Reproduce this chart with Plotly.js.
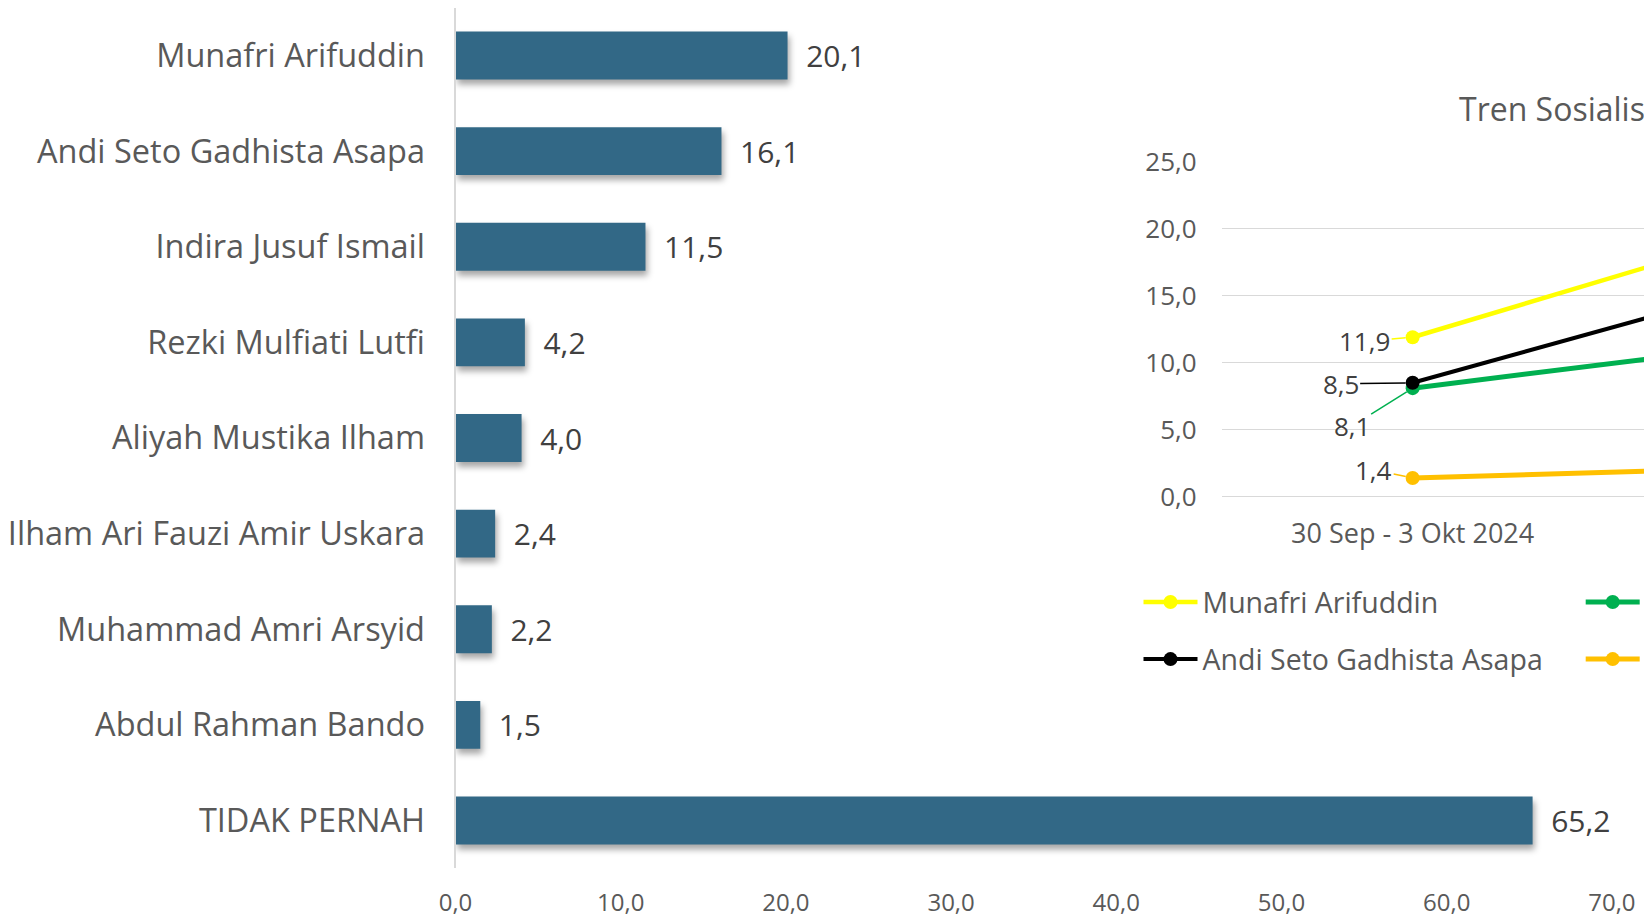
<!DOCTYPE html>
<html>
<head>
<meta charset="utf-8">
<script src="https://cdn.plot.ly/plotly-3.0.1.min.js"></script>
<style>
  html, body { margin: 0; padding: 0; background: #ffffff; overflow: hidden; }
  #chart { width: 1644px; height: 917px; }
  .barlayer .trace .points path { filter: drop-shadow(2px 5px 3px rgba(0,0,0,0.35)); }
</style>
</head>
<body>
<div id="chart"></div>
<script>
// ---- Bar chart data ----
const categories = [
  'Munafri Arifuddin',
  'Andi Seto Gadhista Asapa',
  'Indira Jusuf Ismail',
  'Rezki Mulfiati Lutfi',
  'Aliyah Mustika Ilham',
  'Ilham Ari Fauzi Amir Uskara',
  'Muhammad Amri Arsyid',
  'Abdul Rahman Bando',
  'TIDAK PERNAH'
];
const values = [20.1, 16.1, 11.5, 4.2, 4.0, 2.4, 2.2, 1.5, 65.2];
const barTicks = [0, 10, 20, 30, 40, 50, 60, 70];

// ---- Inset trend chart data ----
const trendPeriods = ['30 Sep - 3 Okt 2024', 'Okt 2024 (II)'];
const trendTicks = [0, 5, 10, 15, 20, 25];
const trendNames = ['Munafri Arifuddin', 'Indira Jusuf Ismail', 'Andi Seto Gadhista Asapa', 'Muhammad Amri Arsyid'];
const trendMunafri = [11.9, 20.1];
const trendIndira = [8.1, 11.5];
const trendAndiSeto = [8.5, 16.1];
const trendAmri = [1.4, 2.2];
const trendTitle = 'Tren Sosialisasi Calon Walikota';

const trendSeries = [trendMunafri, trendIndira, trendAndiSeto, trendAmri];
const trendColors = ['#FFFF00', '#00B050', '#000000', '#FFC000'];
const trendWidths = [4.5, 5, 4, 5];
const trendLegend = ['legend', 'legend2', 'legend', 'legend2'];
// label offsets (px) for the first-period data labels
const labelOffsets = [[-48, 4], [-61, 38], [-72, 1], [-39, -8]];

const FONT = 'Open Sans, Lato, DejaVu Sans, sans-serif';
const fmt = v => v.toFixed(1).replace('.', ',');

const traces = [];
traces.push({
  type: 'bar',
  orientation: 'h',
  x: values,
  y: categories,
  xaxis: 'x',
  yaxis: 'y',
  marker: { color: '#326886' },
  width: 0.5,
  texttemplate: '\u00a0\u00a0%{x:.1f}',
  textposition: 'outside',
  textfont: { family: FONT, size: 30, color: '#404040' },
  cliponaxis: false,
  constraintext: 'none',
  showlegend: false,
  hoverinfo: 'skip'
});

trendSeries.forEach((arr, i) => {
  traces.push({
    type: 'scatter',
    mode: 'lines+markers',
    name: trendNames[i],
    x: trendPeriods,
    y: arr,
    xaxis: 'x2',
    yaxis: 'y2',
    line: { color: trendColors[i], width: trendWidths[i] },
    marker: { color: trendColors[i], size: 14 },
    legend: trendLegend[i],
    legendgroup: trendNames[i],
    hoverinfo: 'skip'
  });
});

const annotations = [];
trendSeries.forEach((arr, i) => {
  annotations.push({
    xref: 'x2', yref: 'y2',
    x: trendPeriods[0], y: arr[0],
    text: fmt(arr[0]),
    showarrow: true,
    arrowhead: 0,
    arrowwidth: 1.5,
    arrowcolor: trendColors[i],
    standoff: 7,
    ax: labelOffsets[i][0],
    ay: labelOffsets[i][1],
    font: { family: FONT, size: 26, color: '#404040' }
  });
});
annotations.push({
  xref: 'paper', yref: 'paper',
  x: 1456.7 / 1644, xanchor: 'left',
  y: 1 - 108 / 917, yanchor: 'middle',
  text: trendTitle,
  showarrow: false,
  font: { family: FONT, size: 32, color: '#595959' }
});

const legendBase = {
  orientation: 'v',
  xanchor: 'left',
  yanchor: 'top',
  y: 1 - 577 / 917,
  font: { family: FONT, size: 28.5, color: '#595959' },
  itemwidth: 54,
  tracegroupgap: 17,
  traceorder: 'grouped',
  bgcolor: 'rgba(0,0,0,0)',
  borderwidth: 0
};

const layout = {
  width: 1644,
  height: 917,
  margin: { l: 0, r: 0, t: 0, b: 0, autoexpand: false },
  paper_bgcolor: '#ffffff',
  plot_bgcolor: 'rgba(0,0,0,0)',
  separators: ',.',
  font: { family: FONT, color: '#595959' },
  showlegend: true,
  xaxis: {
    domain: [455.5 / 1644, 1611.9 / 1644],
    range: [0, 70],
    tickvals: barTicks,
    tickformat: '.1f',
    showgrid: false, zeroline: false, showline: false,
    ticks: '',
    tickfont: { family: FONT, size: 24, color: '#595959' },
    ticklabelstandoff: 18,
    fixedrange: true
  },
  yaxis: {
    domain: [1 - 868.3 / 917, 1 - 7.7 / 917],
    type: 'category',
    categoryorder: 'array',
    categoryarray: categories,
    autorange: 'reversed',
    showline: true, linecolor: '#D9D9D9', linewidth: 2,
    showgrid: false, zeroline: false,
    ticks: '',
    tickfont: { family: FONT, size: 32.5, color: '#595959' },
    ticklabelstandoff: 22,
    fixedrange: true
  },
  xaxis2: {
    domain: [1221.7 / 1644, 1],
    anchor: 'y2',
    type: 'category',
    range: [-0.52, 0.63],
    showgrid: false, zeroline: false, showline: false,
    ticks: '',
    tickfont: { family: FONT, size: 27, color: '#595959' },
    ticklabelstandoff: 18,
    fixedrange: true
  },
  yaxis2: {
    domain: [1 - 496.7 / 917, 1 - 161.7 / 917],
    anchor: 'x2',
    range: [0, 25],
    tickvals: trendTicks,
    tickformat: '.1f',
    gridcolor: '#D9D9D9', gridwidth: 1.5,
    zeroline: true, zerolinecolor: '#D9D9D9', zerolinewidth: 1.5,
    showline: false,
    ticks: '',
    tickfont: { family: FONT, size: 26, color: '#595959' },
    ticklabelstandoff: 24,
    fixedrange: true
  },
  legend: Object.assign({}, legendBase, { x: 1138.5 / 1644 }),
  legend2: Object.assign({}, legendBase, { x: 1580.7 / 1644 }),
  annotations: annotations
};

Plotly.newPlot('chart', traces, layout, { displayModeBar: false, staticPlot: true });
</script>
</body>
</html>
